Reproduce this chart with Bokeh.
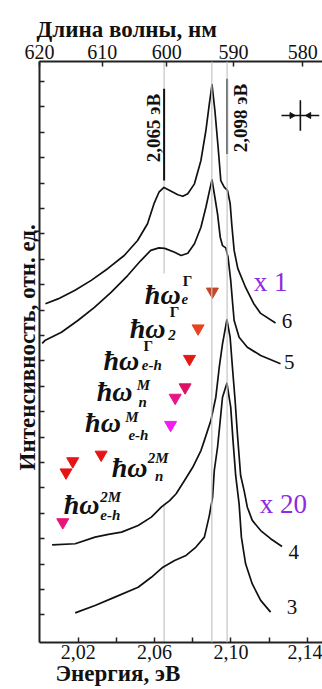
import math
from bokeh.plotting import figure
from bokeh.models import (Range1d, LinearAxis, FixedTicker, CustomJSTickFormatter,
                          Label, Span, Title)
from bokeh.embed import file_html
from bokeh.resources import INLINE

# Photoluminescence spectra: photon energy (eV) and intensity (arb. units, offset)
energy_6 = [2.0028, 2.0094, 2.0181, 2.0268, 2.0354, 2.0441, 2.0511, 2.0563, 2.0597, 2.0623,
            2.0649, 2.0687, 2.0722, 2.0748, 2.0774, 2.0809, 2.0843, 2.0869, 2.0887, 2.0901,
            2.0916, 2.0933, 2.0947, 2.0965, 2.0982, 2.0996, 2.1005, 2.1017, 2.1036, 2.1077,
            2.1119, 2.1156, 2.1234]
intensity_6 = [13.25, 13.44, 13.77, 14.17, 14.63, 15.15, 15.74, 16.40, 17.19, 17.64,
               17.83, 17.68, 17.54, 17.48, 17.58, 17.97, 18.89, 20.07, 21.12, 21.88,
               20.86, 19.41, 18.10, 17.84, 17.71, 17.20, 16.33, 15.35, 14.64, 13.89,
               13.26, 12.87, 12.49]

energy_5 = [2.0011, 2.0025, 2.0112, 2.0198, 2.0285, 2.0372, 2.0459, 2.0528, 2.0580, 2.0623,
            2.0653, 2.0705, 2.0739, 2.0774, 2.0809, 2.0843, 2.0869, 2.0892, 2.0901, 2.0913,
            2.0930, 2.0944, 2.0956, 2.0973, 2.0985, 2.0999, 2.1010, 2.1017, 2.1043, 2.1086,
            2.1156, 2.1260]
intensity_5 = [11.69, 11.80, 12.13, 12.59, 13.11, 13.70, 14.36, 14.95, 15.35, 15.45,
               15.43, 15.28, 15.15, 15.24, 15.61, 16.26, 17.05, 17.84, 18.13, 17.58,
               16.79, 15.87, 15.54, 15.45, 15.08, 14.17, 13.18, 12.59, 11.93, 11.54,
               11.21, 10.89]

energy_4 = [2.0063, 2.0184, 2.0288, 2.0358, 2.0427, 2.0514, 2.0583, 2.0635, 2.0679, 2.0713,
            2.0757, 2.0800, 2.0843, 2.0861, 2.0895, 2.0921, 2.0939, 2.0956, 2.0979, 2.0996,
            2.1008, 2.1022, 2.1034, 2.1051, 2.1069, 2.1086, 2.1112, 2.1156, 2.1208, 2.1268]
intensity_4 = [3.76, 3.80, 4.06, 4.17, 4.26, 4.52, 4.85, 5.24, 5.50, 5.77,
               6.29, 6.81, 7.47, 7.87, 8.65, 9.57, 10.75, 11.67, 12.62, 11.93,
               10.75, 9.44, 8.13, 6.49, 5.90, 5.24, 4.72, 4.32, 4.00, 3.69]

energy_3 = [2.0184, 2.0288, 2.0392, 2.0514, 2.0583, 2.0644, 2.0705, 2.0765, 2.0817, 2.0861,
            2.0887, 2.0904, 2.0913, 2.0930, 2.0944, 2.0956, 2.0979, 2.0999, 2.1011, 2.1025,
            2.1043, 2.1055, 2.1077, 2.1112, 2.1156, 2.1208]
intensity_3 = [1.08, 1.37, 1.70, 2.09, 2.48, 2.88, 3.14, 3.34, 3.67, 4.06,
               4.91, 5.63, 6.69, 7.60, 8.65, 9.57, 10.12, 9.18, 7.87, 6.49,
               5.37, 4.06, 3.01, 2.22, 1.57, 1.11]

# Phonon-replica markers (energy, level on the plot, colour)
marker_energy = [2.0903, 2.0828, 2.0783, 2.0760, 2.0708, 2.0684, 2.0320, 2.0171, 2.0136, 2.0119]
marker_level = [13.73, 12.28, 11.08, 9.96, 9.55, 8.48, 7.31, 7.05, 6.61, 4.65]
marker_color = ["#c4462a", "#e8431f", "#e01b14", "#dc1464", "#e8168c",
                "#f01ef0", "#e61414", "#e61414", "#e61414", "#e8147a"]

# Reference energies (eV)
line_energies = [2.065, 2.090, 2.098]
line_labels = ["2,065 эВ", "2,098 эВ"]

energy_ticks = [2.02, 2.06, 2.10, 2.14]
energy_minor = [2.04, 2.08, 2.12]
wavelength_ticks = [620, 610, 600, 590, 580]
HC = 1239.84  # eV*nm

SERIF = "Liberation Serif"
INK = "#111111"
AX = "#222222"

p = figure(width=322, height=689, output_backend="svg", toolbar_location=None,
           x_range=Range1d(1.9997, 2.148), y_range=Range1d(-0.087, 22.787),
           min_border_left=39, min_border_right=0, min_border_top=61, min_border_bottom=47,
           x_axis_location="below", y_axis_location="left")
p.outline_line_color = None
p.xgrid.visible = False
p.ygrid.visible = False
p.background_fill_color = "white"
p.border_fill_color = "white"


def style_axis(ax):
    ax.axis_line_color = AX
    ax.axis_line_width = 2
    ax.major_tick_line_color = AX
    ax.major_tick_line_width = 1.5
    ax.minor_tick_line_color = AX
    ax.minor_tick_line_width = 1.5
    ax.major_tick_in = 5
    ax.major_tick_out = 0
    ax.minor_tick_in = 5
    ax.minor_tick_out = 0
    ax.major_label_text_font = SERIF
    ax.major_label_text_font_size = "20px"
    ax.major_label_text_color = INK


# bottom energy axis
xb = p.xaxis[0]
xb.ticker = FixedTicker(ticks=energy_ticks, minor_ticks=energy_minor)
xb.formatter = CustomJSTickFormatter(code="return tick.toFixed(2).replace('.', ',');")
style_axis(xb)
xb.major_label_standoff = 2

# left intensity axis: ticks only
yl = p.yaxis[0]
yl.ticker = FixedTicker(ticks=list(range(1, 23)))
yl.formatter = CustomJSTickFormatter(code="return '';")
style_axis(yl)
yl.major_label_standoff = 0

# top wavelength axis
top = LinearAxis(ticker=FixedTicker(ticks=[HC / w for w in wavelength_ticks], minor_ticks=[]),
                 formatter=CustomJSTickFormatter(code="return Math.round(1239.84 / tick).toString();"))
style_axis(top)
top.major_label_standoff = 3
p.add_layout(top, "above")

# axis titles, stacked outside the axes
p.add_layout(Title(text="Длина волны, нм", align="left", offset=-3, standoff=0,
                   text_font=SERIF, text_font_size="23px", text_font_style="bold",
                   text_color=INK), "above")
p.add_layout(Title(text="Энергия, эВ", align="left", offset=16, standoff=-5,
                   text_font=SERIF, text_font_size="23px", text_font_style="bold",
                   text_color=INK), "below")
p.add_layout(Title(text="Интенсивность, отн. ед.", align="left", offset=172, standoff=0,
                   text_font=SERIF, text_font_size="23px", text_font_style="bold",
                   text_color=INK), "left")

# reference lines
p.segment(x0=[line_energies[0]] * 2, x1=[line_energies[0]] * 2, y0=[22.787, 5.39], y1=[14.44, -0.087],
          line_color="#c4c4c4", line_width=1.2)
for e in line_energies[1:]:
    p.add_layout(Span(location=e, dimension="height", line_color="#c4c4c4", line_width=1.2))

# spectra
for xs, ys in [(energy_6, intensity_6), (energy_5, intensity_5),
               (energy_4, intensity_4), (energy_3, intensity_3)]:
    p.line(xs, ys, line_color=INK, line_width=1.7, line_join="round")

# markers
p.scatter(marker_energy, marker_level, marker="inverted_triangle", size=12,
          fill_color=marker_color, line_color=marker_color)

# black label bars at the two reference energies
p.segment(x0=[line_energies[0], line_energies[2]], x1=[line_energies[0], line_energies[2]],
          y0=[21.71, 22.11], y1=[18.10, 19.15], line_color=INK, line_width=2)


def lab(x, y, text, size, style="normal", color=INK, align="left",
        baseline="alphabetic", angle=0.0):
    p.add_layout(Label(x=x, y=y, text=text, text_font=SERIF, text_font_size=size,
                       text_font_style=style, text_color=color, text_align=align,
                       text_baseline=baseline, angle=angle))


lab(2.0592, 20.17, line_labels[0], "19px", "bold", align="center", baseline="middle", angle=math.pi / 2)
lab(2.1052, 20.56, line_labels[1], "19px", "bold", align="center", baseline="middle", angle=math.pi / 2)

# resolution cross
cx, cy = 2.1364, 20.66
p.segment(x0=[cx - 0.0099, cx], x1=[cx + 0.0099, cx], y0=[cy, cy - 0.6], y1=[cy, cy + 0.6],
          line_color=INK, line_width=1.6)
p.scatter([cx - 0.0045, cx + 0.0045], [cy, cy], marker="triangle", angle=[-math.pi / 2, math.pi / 2],
          size=6, color=INK)

# curve numbers and scale factors
lab(2.1294, 12.59, "6", "21px", baseline="middle", align="center")
lab(2.1306, 10.95, "5", "21px", baseline="middle", align="center")
lab(2.1329, 3.47, "4", "21px", baseline="middle", align="center")
lab(2.1320, 1.30, "3", "21px", baseline="middle", align="center")
lab(2.1208, 14.10, "x 1", "27px", color="#8c2ce0", baseline="middle", align="center")
lab(2.1275, 5.37, "x 20", "27px", color="#8c2ce0", baseline="middle", align="center")

# phonon labels: (main x, baseline y, sup, sup style, sup x, sup y, sub, sub x, sub y)
phonon_labels = [
    (2.0549, 13.62, "Γ", "bold", 2.0748, 14.16, "e", 2.0741, 13.44),
    (2.0470, 12.28, "Γ", "bold", 2.0680, 12.91, "2", 2.0672, 12.03),
    (2.0332, 11.02, "Γ", "bold", 2.0542, 11.60, "e-h", 2.0533, 10.85),
    (2.0297, 9.81, "M", "bold italic", 2.0507, 10.05, "n", 2.0516, 9.40),
    (2.0236, 8.57, "M", "bold italic", 2.0446, 8.78, "e-h", 2.0463, 8.09),
    (2.0375, 6.80, "2M", "bold italic", 2.0564, 7.18, "n", 2.0602, 6.45),
    (2.0124, 5.35, "2M", "bold italic", 2.0316, 5.63, "e-h", 2.0316, 4.94),
]
for mx, my, sup, sup_style, sx, sy, sub, bx, by in phonon_labels:
    lab(mx, my, "ħω", "28px", "bold italic")
    lab(sx, sy, sup, "15px", sup_style, baseline="middle")
    lab(bx, by, sub, "15px", "bold italic", baseline="middle")

open("out.html", "w").write(file_html(p, INLINE))
